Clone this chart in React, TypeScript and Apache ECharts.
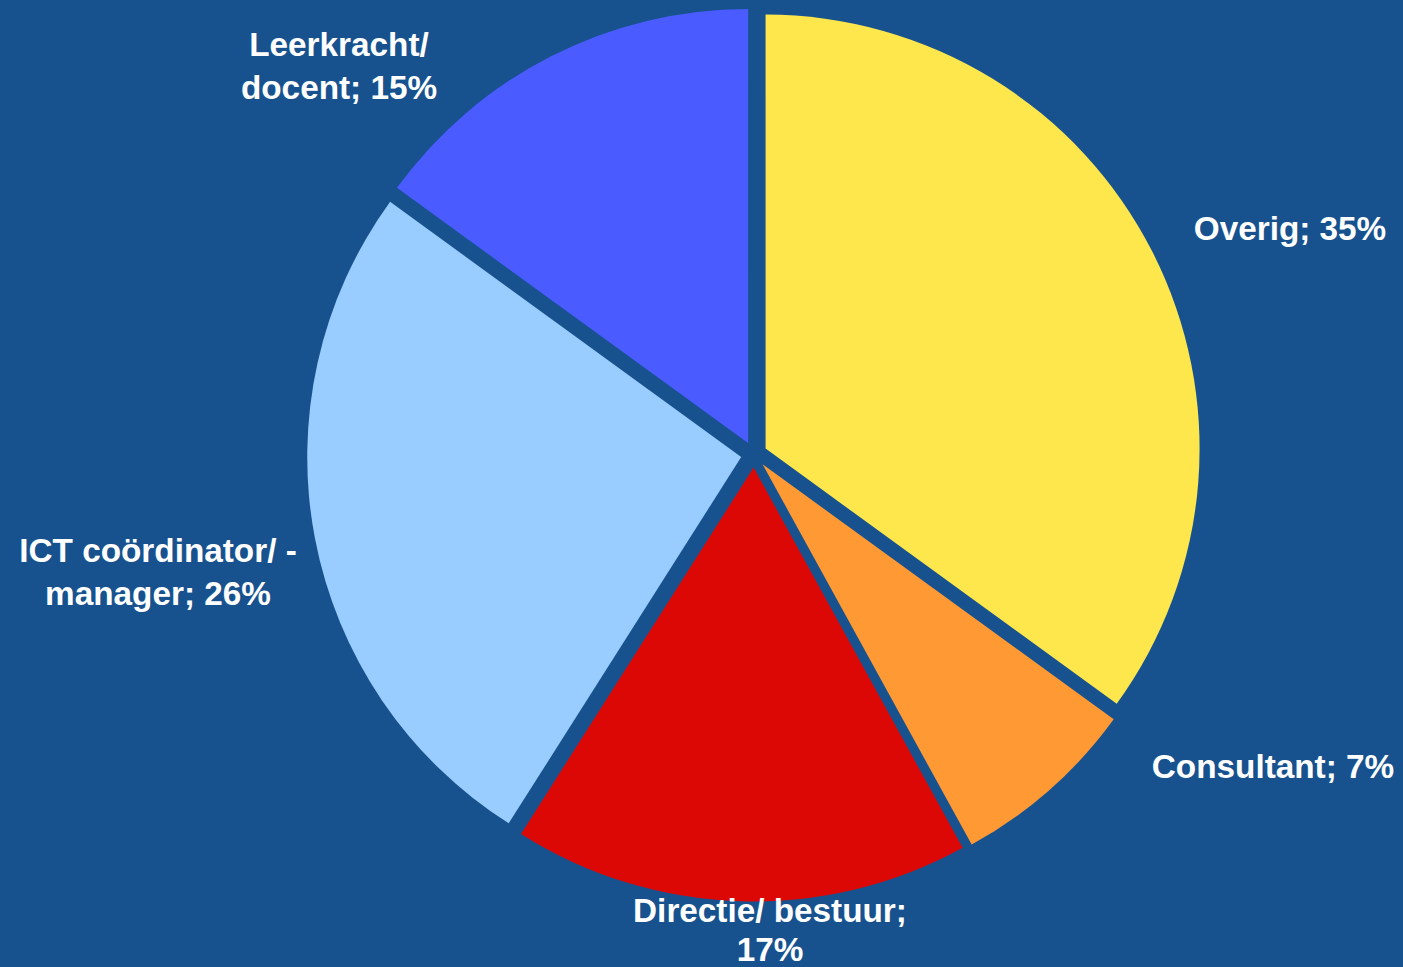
import React, { useEffect, useRef } from "react";
import * as echarts from "echarts";

const categories = ["Overig", "Consultant", "Directie/ bestuur", "ICT coördinator/ -manager", "Leerkracht/ docent"];
const values = [35, 7, 17, 26, 15];
const colors = ["#FDE74C", "#FF9933", "#DC0806", "#99CCFF", "#4A5CFF"];
// where each label wraps onto a second line (null = single line)
const wrapAfter: (string | null)[] = [null, null, "bestuur;", "/ -", "Leerkracht/"];
// label centres
const labelX = [1290, 1273, 770, 158, 339];
const labelY = [228, 766, 930, 572, 66];
const lineHeights = [43, 43, 38.5, 43.5, 43];

const BG = "#17528F";

function labelText(i: number): string {
  const total = values.reduce((a, b) => a + b, 0);
  let s = `${categories[i]}; ${Math.round((values[i] / total) * 100)}%`;
  const w = wrapAfter[i];
  if (w) {
    const k = s.indexOf(w) + w.length;
    s = s.slice(0, k) + "\n" + s.slice(k).trimStart();
  }
  return s;
}

export default function App() {
  const ref = useRef<HTMLDivElement>(null);
  useEffect(() => {
    document.body.style.margin = "0";
    document.body.style.background = BG;
    const chart = echarts.init(ref.current!, undefined, { renderer: "svg" });
    chart.setOption({
      animation: false,
      backgroundColor: BG,
      graphic: categories.map((c, i) => ({
        type: "text",
        x: labelX[i],
        y: labelY[i],
        z: 100,
        style: {
          text: labelText(i),
          fill: "#FFFFFF",
          fontFamily: "Liberation Sans, Arial, sans-serif",
          fontWeight: "bold",
          fontSize: 33.3,
          lineHeight: lineHeights[i],
          align: "center",
          verticalAlign: "middle",
        },
      })),
      series: [
        {
          type: "pie",
          center: [754, 454.5],
          radius: 434,
          startAngle: 90,
          clockwise: true,
          selectedMode: "multiple",
          selectedOffset: 13,
          emphasis: { disabled: true },
          itemStyle: { borderWidth: 0 },
          labelLine: { show: false },
          label: { show: false },
          data: categories.map((c, i) => ({
            name: c,
            value: values[i],
            selected: true,
            itemStyle: { color: colors[i] },
          })),
        },
      ],
    });
    return () => chart.dispose();
  }, []);
  return (
    <div
      ref={ref}
      style={{ position: "absolute", left: 0, top: 0, width: 1403, height: 967 }}
    />
  );
}
